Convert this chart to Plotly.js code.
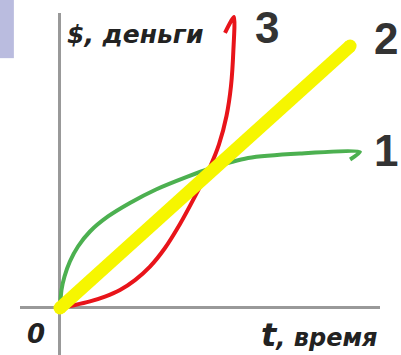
<!DOCTYPE html>
<html><head><meta charset="utf-8">
<script src="https://cdn.plot.ly/plotly-3.0.1.min.js"></script>
<style>html,body{margin:0;padding:0;background:#fff}</style>
</head><body><div id="chart" style="width:401px;height:355px"></div>
<script>
// Series 1 (green): slowing growth
const t1 = [0, 0.05, 0.15, 0.33, 0.6, 1.0, 1.6, 2.33, 3.2, 4.23, 5, 6.27, 8, 10, 9.67];
const m1 = [0, 0.6, 1.05, 1.55, 2.05, 2.55, 3.05, 3.5, 3.95, 4.37, 4.65, 5.0, 5.15, 5.2, 4.95];
// Series 2 (yellow): linear growth
const t2 = [0, 9.67];
const m2 = [0, 8.73];
// Series 3 (red): accelerating growth
const t3 = [0, 0.5, 1, 1.5, 2, 2.5, 3, 3.5, 4, 4.5, 5, 5.3, 5.55, 5.7, 5.78, 5.8, 5.5];
const m3 = [0, 0.1, 0.22, 0.38, 0.6, 0.93, 1.38, 2.0, 2.8, 3.72, 4.7, 5.45, 6.4, 7.4, 8.6, 9.7, 9.17];
const curveLabels = ['1', '2', '3'];
const yLabel = '$, деньги';
const xLabel = '<span style="font-size:32px">t</span>, время';
const originLabel = '0';

const traces = [
  {x: t1, y: m1, mode: 'lines', line: {color: '#4cb050', width: 4, shape: 'spline', smoothing: 0.6}, hoverinfo: 'skip'},
  {x: t3, y: m3, mode: 'lines', line: {color: '#e8141a', width: 4, shape: 'spline', smoothing: 0.6}, hoverinfo: 'skip'},
  {x: t2, y: m2, mode: 'lines+markers', line: {color: '#f6f600', width: 13},
   marker: {color: '#f6f600', size: 13, line: {width: 0}}, hoverinfo: 'skip'}
];

const axisCommon = {showgrid: false, showticklabels: false, ticks: '', showline: false,
  zeroline: true, zerolinecolor: '#999999', zerolinewidth: 3, fixedrange: true};

const numFont = {family: 'Liberation Sans Narrow, Liberation Sans, Arial', size: 44, color: '#333333', weight: 'bold'};
const txtFont = {family: 'DejaVu Sans', size: 25, color: '#222222', weight: 'bold', style: 'italic'};

const layout = {
  width: 401, height: 355,
  margin: {l: 20, r: 21, t: 13, b: 0, pad: 0},
  paper_bgcolor: '#ffffff', plot_bgcolor: '#ffffff',
  showlegend: false,
  xaxis: Object.assign({range: [-1.333, 10.667]}, axisCommon),
  yaxis: Object.assign({range: [-1.567, 9.833]}, axisCommon),
  shapes: [
    {type: 'rect', xref: 'paper', yref: 'paper', x0: -0.06, x1: -0.017, y0: 0.868, y1: 1.04,
     fillcolor: '#babcdf', line: {width: 0}, layer: 'above'}
  ],
  annotations: [
    {xref: 'paper', yref: 'paper', x: 0.125, y: 0.936, xanchor: 'left', yanchor: 'middle', showarrow: false, text: yLabel, font: txtFont},
    {xref: 'paper', yref: 'paper', x: 0.044, y: 0.061, xanchor: 'center', yanchor: 'middle', showarrow: false, text: originLabel, font: Object.assign({}, txtFont, {size: 26})},
    {xref: 'paper', yref: 'paper', x: 0.996, y: 0.058, xanchor: 'right', yanchor: 'middle', showarrow: false, text: xLabel, font: Object.assign({}, txtFont, {size: 24})},
    {xref: 'paper', yref: 'paper', x: 1.017, y: 0.599, xanchor: 'center', yanchor: 'middle', showarrow: false, text: curveLabels[0], font: numFont},
    {xref: 'paper', yref: 'paper', x: 1.017, y: 0.924, xanchor: 'center', yanchor: 'middle', showarrow: false, text: curveLabels[1], font: numFont},
    {xref: 'paper', yref: 'paper', x: 0.686, y: 0.959, xanchor: 'center', yanchor: 'middle', showarrow: false, text: curveLabels[2], font: numFont}
  ]
};

Plotly.newPlot('chart', traces, layout, {staticPlot: true, displayModeBar: false});
</script>
</body></html>
